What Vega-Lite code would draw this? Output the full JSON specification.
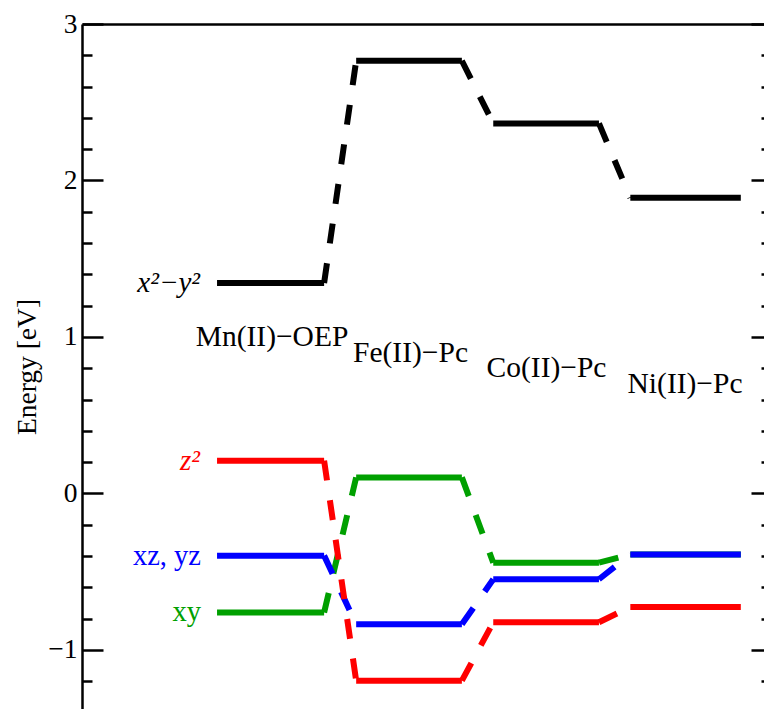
{
  "$schema": "https://vega.github.io/schema/vega-lite/v6.json",
  "width": 682,
  "height": 685,
  "autosize": {"type": "none"},
  "padding": {"left": 82, "top": 24, "right": 0, "bottom": 0},
  "config": {
    "view": {"stroke": null},
    "font": "Liberation Serif",
    "axis": {
      "grid": false,
      "labelFont": "Liberation Serif",
      "titleFont": "Liberation Serif",
      "labelFontSize": 27.5,
      "titleFontSize": 27.5,
      "titleFontWeight": "normal",
      "labelColor": "black",
      "titleColor": "black",
      "domainColor": "black",
      "tickColor": "black",
      "domainWidth": 2.5,
      "tickWidth": 2.5
    }
  },
  "datasets": {
    "levels": [
      {"orb": "x²−y²", "cmp": "Mn(II)−OEP", "x0": 1.98, "x1": 3.55, "e": 1.345},
      {"orb": "x²−y²", "cmp": "Fe(II)−Pc", "x0": 4.02, "x1": 5.57, "e": 2.765},
      {"orb": "x²−y²", "cmp": "Co(II)−Pc", "x0": 6.03, "x1": 7.58, "e": 2.365},
      {"orb": "x²−y²", "cmp": "Ni(II)−Pc", "x0": 8.04, "x1": 9.66, "e": 1.89},
      {"orb": "xy", "cmp": "Mn(II)−OEP", "x0": 1.98, "x1": 3.55, "e": -0.76},
      {"orb": "xy", "cmp": "Fe(II)−Pc", "x0": 4.02, "x1": 5.57, "e": 0.103},
      {"orb": "xy", "cmp": "Co(II)−Pc", "x0": 6.03, "x1": 7.58, "e": -0.442},
      {"orb": "xy", "cmp": "Ni(II)−Pc", "x0": 8.04, "x1": 9.66, "e": -0.39},
      {"orb": "xz, yz", "cmp": "Mn(II)−OEP", "x0": 1.98, "x1": 3.55, "e": -0.397},
      {"orb": "xz, yz", "cmp": "Fe(II)−Pc", "x0": 4.02, "x1": 5.57, "e": -0.836},
      {"orb": "xz, yz", "cmp": "Co(II)−Pc", "x0": 6.03, "x1": 7.58, "e": -0.548},
      {"orb": "xz, yz", "cmp": "Ni(II)−Pc", "x0": 8.04, "x1": 9.66, "e": -0.389},
      {"orb": "z²", "cmp": "Mn(II)−OEP", "x0": 1.98, "x1": 3.55, "e": 0.21},
      {"orb": "z²", "cmp": "Fe(II)−Pc", "x0": 4.02, "x1": 5.57, "e": -1.196},
      {"orb": "z²", "cmp": "Co(II)−Pc", "x0": 6.03, "x1": 7.58, "e": -0.823},
      {"orb": "z²", "cmp": "Ni(II)−Pc", "x0": 8.04, "x1": 9.66, "e": -0.725}
    ],
    "compounds": [
      {"cmp": "Mn(II)−OEP", "x": 2.786, "e": 0.9425},
      {"cmp": "Fe(II)−Pc", "x": 4.817, "e": 0.843},
      {"cmp": "Co(II)−Pc", "x": 6.811, "e": 0.744},
      {"cmp": "Ni(II)−Pc", "x": 8.842, "e": 0.642}
    ]
  },
  "layer": [
    {
      "data": {"name": "levels"},
      "mark": {"type": "rule", "strokeWidth": 6, "strokeCap": "butt"},
      "encoding": {
        "x": {"field": "x0", "type": "quantitative", "scale": {"domain": [0, 10], "nice": false, "zero": false},
              "axis": {"orient": "top", "ticks": false, "labels": false, "title": null, "domain": true}},
        "x2": {"field": "x1"},
        "y": {"field": "e", "type": "quantitative", "scale": {"domain": [-1.377, 3], "nice": false, "zero": false},
              "axis": {"orient": "left", "values": [-1, 0, 1, 2, 3], "format": "d", "tickSize": -21, "labelPadding": 26, "title": "Energy [eV]", "titlePadding": 6, "domain": true}},
        "color": {"field": "orb", "type": "nominal", "legend": null,
                  "scale": {"domain": ["x²−y²", "xy", "xz, yz", "z²"], "range": ["#000000", "#00a000", "#0000ff", "#ff0000"]}}
      }
    },
    {
      "data": {"name": "levels"},
      "transform": [
        {"window": [{"op": "lead", "field": "x0", "as": "nx"}, {"op": "lead", "field": "e", "as": "ne"}],
         "groupby": ["orb"], "sort": [{"field": "x0", "order": "ascending"}]},
        {"filter": "datum.nx != null"}
      ],
      "mark": {"type": "rule", "strokeWidth": 6, "strokeCap": "butt", "strokeDash": [20, 20]},
      "encoding": {
        "x": {"field": "x1", "type": "quantitative", "scale": {"domain": [0, 10], "nice": false, "zero": false},
              "axis": {"orient": "top", "ticks": false, "labels": false, "title": null, "domain": true}},
        "x2": {"field": "nx"},
        "y": {"field": "e", "type": "quantitative", "scale": {"domain": [-1.377, 3], "nice": false, "zero": false},
              "axis": {"orient": "left", "values": [-1.2, -0.8, -0.6, -0.4, -0.2, 0.2, 0.4, 0.6, 0.8, 1.2, 1.4, 1.6, 1.8, 2.2, 2.4, 2.6, 2.8], "tickSize": -10, "labels": false, "title": null, "domain": false}},
        "y2": {"field": "ne"},
        "color": {"field": "orb", "type": "nominal", "legend": null,
                  "scale": {"domain": ["x²−y²", "xy", "xz, yz", "z²"], "range": ["#000000", "#00a000", "#0000ff", "#ff0000"]}}
      }
    },
    {
      "data": {"name": "levels"},
      "transform": [{"filter": "datum.cmp === 'Mn(II)−OEP' && (datum.orb === 'x²−y²' || datum.orb === 'z²')"}],
      "mark": {"type": "text", "align": "right", "baseline": "alphabetic", "dx": -17, "dy": 9, "fontSize": 29, "fontStyle": "italic", "font": "Liberation Serif"},
      "encoding": {
        "x": {"field": "x0", "type": "quantitative", "scale": {"domain": [0, 10], "nice": false, "zero": false},
              "axis": {"orient": "top", "ticks": false, "labels": false, "title": null, "domain": true}},
        "y": {"field": "e", "type": "quantitative", "scale": {"domain": [-1.377, 3], "nice": false, "zero": false},
              "axis": {"orient": "right", "values": [-1, 0, 1, 2, 3], "tickSize": -13, "labels": false, "title": null, "domain": false}},
        "text": {"field": "orb"},
        "color": {"field": "orb", "type": "nominal", "legend": null,
                  "scale": {"domain": ["x²−y²", "xy", "xz, yz", "z²"], "range": ["#000000", "#00a000", "#0000ff", "#ff0000"]}}
      }
    },
    {
      "data": {"name": "levels"},
      "transform": [{"filter": "datum.cmp === 'Mn(II)−OEP' && (datum.orb === 'xy' || datum.orb === 'xz, yz')"}],
      "mark": {"type": "text", "align": "right", "baseline": "alphabetic", "dx": -16, "dy": 9, "fontSize": 28.5, "font": "Liberation Serif"},
      "encoding": {
        "x": {"field": "x0", "type": "quantitative", "scale": {"domain": [0, 10], "nice": false, "zero": false},
              "axis": {"orient": "top", "ticks": false, "labels": false, "title": null, "domain": true}},
        "y": {"field": "e", "type": "quantitative", "scale": {"domain": [-1.377, 3], "nice": false, "zero": false},
              "axis": {"orient": "right", "values": [-1.2, -0.8, -0.6, -0.4, -0.2, 0.2, 0.4, 0.6, 0.8, 1.2, 1.4, 1.6, 1.8, 2.2, 2.4, 2.6, 2.8], "tickSize": -3, "labels": false, "title": null, "domain": false}},
        "text": {"field": "orb"},
        "color": {"field": "orb", "type": "nominal", "legend": null,
                  "scale": {"domain": ["x²−y²", "xy", "xz, yz", "z²"], "range": ["#000000", "#00a000", "#0000ff", "#ff0000"]}}
      }
    },
    {
      "data": {"name": "compounds"},
      "mark": {"type": "text", "align": "center", "baseline": "alphabetic", "fontSize": 29.5, "font": "Liberation Serif", "color": "black"},
      "encoding": {
        "x": {"field": "x", "type": "quantitative", "scale": {"domain": [0, 10], "nice": false, "zero": false},
              "axis": {"orient": "top", "ticks": false, "labels": false, "title": null, "domain": true}},
        "y": {"field": "e", "type": "quantitative", "scale": {"domain": [-1.377, 3], "nice": false, "zero": false}, "axis": null},
        "text": {"field": "cmp"}
      }
    }
  ],
  "resolve": {"axis": {"y": "independent"}}
}
